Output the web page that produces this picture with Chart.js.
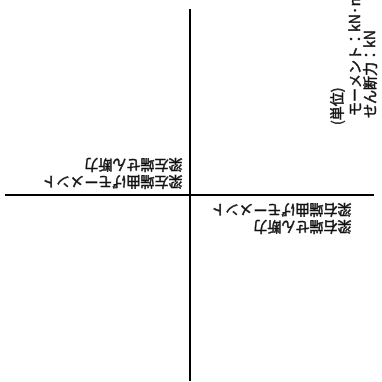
<!DOCTYPE html>
<html>
<head>
<meta charset="utf-8">
<script src="https://cdn.jsdelivr.net/npm/chart.js@4"></script>
<style>
    html, body { margin: 0; padding: 0; background: #fff; }
</style>
</head>
<body>
<canvas id="chart" width="382" height="382"></canvas>
<script>
// axis extents (origin in the middle)
const xRange = [-1, 1];
const yRange = [-1, 1];

// labels (drawn upside down / sideways like the scanned sheet)
const leftLabels = ['梁左端曲げモーメント', '梁左端せん断力'];
const rightLabels = ['梁右端せん断力', '梁右端曲げモーメント'];
const unitLabels = ['(単位)', 'モーメント：kN·m', 'せん断力：kN'];

const FONT = '14px "Noto Sans CJK JP", sans-serif';

const labelPlugin = {
    id: 'labels',
    afterDraw(chart) {
        const ctx = chart.ctx;
        const x0 = chart.scales.x.getPixelForValue(0);
        const y0 = chart.scales.y.getPixelForValue(0);
        ctx.save();
        ctx.fillStyle = '#111';
        ctx.strokeStyle = '#111';
        ctx.lineWidth = 0.5;
        ctx.font = FONT;
        ctx.textAlign = 'left';
        ctx.textBaseline = 'middle';

        const put = (t, x, y) => {
            ctx.fillText(t, x, y);
            ctx.strokeText(t, x, y); // scan strokes are a bit heavier
        };

        // rotated 180deg, text starts next to the axis
        const drawFlipped = (lines, ax, ay) => {
            ctx.save();
            ctx.translate(ax, ay);
            ctx.rotate(Math.PI);
            lines.forEach((t, i) => put(t, 0, i * 17));
            ctx.restore();
        };
        drawFlipped(leftLabels, x0 - 7, y0 - 13);
        drawFlipped(rightLabels, x0 + 162, y0 + 32);

        // unit note, rotated -90deg
        const unitX = [337, 355, 370];
        const unitStart = [125, 116, 118];
        unitLabels.forEach((t, i) => {
            ctx.save();
            ctx.translate(unitX[i], unitStart[i]);
            ctx.rotate(-Math.PI / 2);
            put(t, 0, 0);
            ctx.restore();
        });
        ctx.restore();
    }
};

const axisOpts = (range, pos) => ({
    type: 'linear',
    min: range[0],
    max: range[1],
    position: pos,
    grid: { display: true, color: 'rgba(0,0,0,0)', drawTicks: false },
    border: { display: true, color: '#000', width: 2 },
    ticks: { display: false }
});

new Chart(document.getElementById('chart'), {
    type: 'scatter',
    data: { datasets: [] },
    options: {
        responsive: false,
        animation: false,
        layout: { padding: { left: 6, right: 9, top: 10, bottom: 2 } },
        plugins: { legend: { display: false }, tooltip: { enabled: false } },
        scales: {
            x: axisOpts(xRange, { y: 0 }),
            y: axisOpts(yRange, { x: 0 })
        }
    },
    plugins: [labelPlugin]
});
</script>
</body>
</html>
